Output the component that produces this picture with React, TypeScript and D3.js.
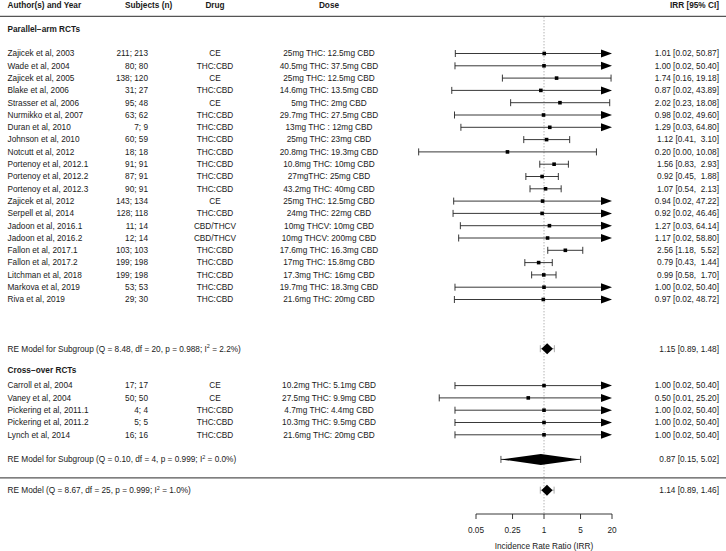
import React from 'react';
import * as d3 from 'd3';

// ---------- data ----------
const parAuthors = [
  'Zajicek et al, 2003', 'Wade et al, 2004', 'Zajicek et al, 2005', 'Blake et al, 2006',
  'Strasser et al, 2006', 'Nurmikko et al, 2007', 'Duran et al, 2010', 'Johnson et al, 2010',
  'Notcutt et al, 2012', 'Portenoy et al, 2012.1', 'Portenoy et al, 2012.2', 'Portenoy et al, 2012.3',
  'Zajicek et al, 2012', 'Serpell et al, 2014', 'Jadoon et al, 2016.1', 'Jadoon et al, 2016.2',
  'Fallon et al, 2017.1', 'Fallon et al, 2017.2', 'Litchman et al, 2018', 'Markova et al, 2019',
  'Riva et al, 2019',
];
const parSubjects = [
  '211; 213', '80; 80', '138; 120', '31; 27', '95; 48', '63; 62', '7; 9', '60; 59', '18; 18',
  '91; 91', '87; 91', '90; 91', '143; 134', '128; 118', '11; 14', '12; 14', '103; 103',
  '199; 198', '199; 198', '53; 53', '29; 30',
];
const parDrugs = [
  'CE', 'THC:CBD', 'CE', 'THC:CBD', 'CE', 'THC:CBD', 'THC:CBD', 'THC:CBD', 'THC:CBD',
  'THC:CBD', 'THC:CBD', 'THC:CBD', 'CE', 'THC:CBD', 'CBD/THCV', 'CBD/THCV', 'THC:CBD',
  'THC:CBD', 'THC:CBD', 'THC:CBD', 'THC:CBD',
];
const parDoses = [
  '25mg THC: 12.5mg CBD', '40.5mg THC: 37.5mg CBD', '25mg THC: 12.5mg CBD', '14.6mg THC: 13.5mg CBD',
  '5mg THC: 2mg CBD', '29.7mg THC: 27.5mg CBD', '13mg THC : 12mg CBD', '25mg THC: 23mg CBD',
  '20.8mg THC: 19.3mg CBD', '10.8mg THC: 10mg CBD', '27mgTHC: 25mg CBD', '43.2mg THC: 40mg CBD',
  '25mg THC: 12.5mg CBD', '24mg THC: 22mg CBD', '10mg THCV: 10mg CBD', '10mg THCV: 200mg CBD',
  '17.6mg THC: 16.3mg CBD', '17mg THC: 15.8mg CBD', '17.3mg THC: 16mg CBD', '19.7mg THC: 18.3mg CBD',
  '21.6mg THC: 20mg CBD',
];
const parEst = [1.01, 1.0, 1.74, 0.87, 2.02, 0.98, 1.29, 1.12, 0.2, 1.56, 0.92, 1.07, 0.94, 0.92, 1.27, 1.17, 2.56, 0.79, 0.99, 1.0, 0.97];
const parLo = [0.0201, 0.0198, 0.16, 0.0172, 0.23, 0.0194, 0.0257, 0.41, 0.004, 0.83, 0.45, 0.54, 0.0187, 0.0182, 0.0251, 0.0233, 1.18, 0.43, 0.58, 0.0198, 0.0193];
const parHi = [50.87, 50.4, 19.18, 43.89, 18.08, 49.6, 64.8, 3.1, 10.08, 2.93, 1.88, 2.13, 47.22, 46.46, 64.14, 58.8, 5.52, 1.44, 1.7, 50.4, 48.72];

const coAuthors = ['Carroll et al, 2004', 'Vaney et al, 2004', 'Pickering et al, 2011.1', 'Pickering et al, 2011.2', 'Lynch et al, 2014'];
const coSubjects = ['17; 17', '50; 50', '4; 4', '5; 5', '16; 16'];
const coDrugs = ['CE', 'CE', 'THC:CBD', 'THC:CBD', 'THC:CBD'];
const coDoses = ['10.2mg THC: 5.1mg CBD', '27.5mg THC: 9.9mg CBD', '4.7mg THC: 4.4mg CBD', '10.3mg THC: 9.5mg CBD', '21.6mg THC: 20mg CBD'];
const coEst = [1.0, 0.5, 1.0, 1.0, 1.0];
const coLo = [0.0198, 0.0099, 0.0198, 0.0198, 0.0198];
const coHi = [50.4, 25.2, 50.4, 50.4, 50.4];

const sumPrefix = ['RE Model for Subgroup (Q = 8.48, df = 20, p = 0.988; I', 'RE Model for Subgroup (Q = 0.10, df = 4, p = 0.999; I', 'RE Model (Q = 8.67, df = 25, p = 0.999; I'];
const sumI2 = ['2.2%)', '0.0%)', '1.0%)'];
const sumEst = [1.15, 0.87, 1.14];
const sumLo = [0.89, 0.15, 0.89];
const sumHi = [1.48, 5.02, 1.46];
const piLo = [0.85, 0.15, 0.85];
const piHi = [1.58, 5.02, 1.56];

const groupTitles = ['Parallel\u2212arm RCTs', 'Cross\u2212over RCTs'];
const headers = ['Author(s) and Year', 'Subjects (n)', 'Drug', 'Dose', 'IRR [95% CI]'];
const tickValues = [0.05, 0.25, 1, 5, 20];
const tickLabels = ['0.05', '0.25', '1', '5', '20'];
const axisTitle = 'Incidence Rate Ratio (IRR)';

// ---------- layout ----------
const W = 726;
const H = 551;
const FS = 8.25;
const FONT = "'Liberation Sans', Arial, Helvetica, sans-serif";
const TXT = '#1a1a1a';

const x = d3.scaleLog().domain([0.05, 20]).range([476, 612]);
const row = d3.scaleLinear().domain([0, 20]).range([53.5, 299.5]);

const fmtCI = (e: number, l: number, h: number, pad: boolean) =>
  `${e.toFixed(2)} [${l.toFixed(2)}, ${pad ? h.toFixed(2).padStart(5, ' ') : h.toFixed(2)}]`;

type Study = { a: string; s: string; d: string; dose: string; e: number; l: number; h: number; r: number };

const studies: Study[] = [
  ...parAuthors.map((a, i) => ({ a, s: parSubjects[i], d: parDrugs[i], dose: parDoses[i], e: parEst[i], l: parLo[i], h: parHi[i], r: i })),
  ...coAuthors.map((a, i) => ({ a, s: coSubjects[i], d: coDrugs[i], dose: coDoses[i], e: coEst[i], l: coLo[i], h: coHi[i], r: 27 + i })),
];
const sumRows = [24, 33, 35.5];
const titleRows = [-1.95, 25.78];
const headerRow = -3.95;
const lineYs = [16.3, 477.8];
const axisY = 514;

function StudyRow({ st }: { st: Study }) {
  const y = row(st.r);
  const xmax = x.range()[1];
  const clipped = st.h > 20;
  const xl = x(st.l);
  const xr = clipped ? xmax - 10 : x(st.h);
  const xe = x(st.e);
  const sq = 3.6;
  return (
    <g>
      <text x={7.5} y={y} dy="0.35em">{st.a}</text>
      <text x={148} y={y} dy="0.35em" textAnchor="end">{st.s}</text>
      <text x={215} y={y} dy="0.35em" textAnchor="middle">{st.d}</text>
      <text x={329} y={y} dy="0.35em" textAnchor="middle">{st.dose}</text>
      <text x={719} y={y} dy="0.35em" textAnchor="end" style={{ whiteSpace: 'pre' }}>{fmtCI(st.e, st.l, st.h, true)}</text>
      <line x1={xl} x2={xr} y1={y} y2={y} stroke="#222" strokeWidth={0.9} />
      <line x1={xl} x2={xl} y1={y - 3.5} y2={y + 3.5} stroke="#222" strokeWidth={0.9} />
      {clipped ? (
        <path d={`M${xmax},${y} L${xmax - 11},${y - 4} L${xmax - 11},${y + 4} Z`} fill="#000" />
      ) : (
        <line x1={xr} x2={xr} y1={y - 3.5} y2={y + 3.5} stroke="#222" strokeWidth={0.9} />
      )}
      <rect x={xe - sq / 2} y={y - sq / 2} width={sq} height={sq} fill="#000" />
    </g>
  );
}

export default function App() {
  return (
    <div style={{ position: 'fixed', left: 0, top: 0 }}>
      <svg width={W} height={H} fontFamily={FONT} fontSize={FS} fill={TXT} style={{ display: 'block', background: '#fff' }}>
        {/* headers */}
        <g fontWeight="bold">
          <text x={7.5} y={row(headerRow)} dy="0.35em">{headers[0]}</text>
          <text x={125} y={row(headerRow)} dy="0.35em">{headers[1]}</text>
          <text x={215} y={row(headerRow)} dy="0.35em" textAnchor="middle">{headers[2]}</text>
          <text x={329} y={row(headerRow)} dy="0.35em" textAnchor="middle">{headers[3]}</text>
          <text x={719} y={row(headerRow)} dy="0.35em" textAnchor="end">{headers[4]}</text>
          {groupTitles.map((t, i) => (
            <text key={t} x={7.5} y={row(titleRows[i])} dy="0.35em">{t}</text>
          ))}
        </g>
        {/* horizontal rules */}
        {lineYs.map((ly) => (
          <line key={ly} x1={0} x2={W} y1={ly} y2={ly} stroke="#555" strokeWidth={1.3} />
        ))}
        {/* reference line */}
        <line x1={x(1)} x2={x(1)} y1={lineYs[0] + 1} y2={axisY} stroke="#777" strokeWidth={0.8} strokeDasharray="1,2" />
        {/* studies */}
        {studies.map((st) => (
          <StudyRow key={st.a + st.r} st={st} />
        ))}
        {/* summaries */}
        {sumRows.map((r, i) => {
          const y = row(r);
          const hh = 5.5;
          return (
            <g key={r}>
              <text x={7.5} y={y} dy="0.35em">
                {sumPrefix[i]}
                <tspan fontSize={5.5} dy={-3.2}>2</tspan>
                <tspan dy={3.2}>{' = ' + sumI2[i]}</tspan>
              </text>
              <text x={719} y={y} dy="0.35em" textAnchor="end">{fmtCI(sumEst[i], sumLo[i], sumHi[i], false)}</text>
              <g stroke={i === 1 ? '#222' : '#999'} strokeWidth={0.8}>
                <line x1={x(piLo[i])} x2={x(piHi[i])} y1={y} y2={y} />
                <line x1={x(piLo[i])} x2={x(piLo[i])} y1={y - 3.5} y2={y + 3.5} />
                <line x1={x(piHi[i])} x2={x(piHi[i])} y1={y - 3.5} y2={y + 3.5} />
              </g>
              <path
                d={`M${x(sumLo[i])},${y} L${x(sumEst[i])},${y - hh} L${x(sumHi[i])},${y} L${x(sumEst[i])},${y + hh} Z`}
                fill="#000"
              />
            </g>
          );
        })}
        {/* axis */}
        <g>
          <line x1={x(tickValues[0])} x2={x(tickValues[tickValues.length - 1])} y1={axisY} y2={axisY} stroke="#222" strokeWidth={0.9} />
          {tickValues.map((t, i) => (
            <g key={t}>
              <line x1={x(t)} x2={x(t)} y1={axisY} y2={axisY + 5} stroke="#222" strokeWidth={0.9} />
              <text x={x(t)} y={530.5} dy="0.35em" textAnchor="middle">{tickLabels[i]}</text>
            </g>
          ))}
          <text x={x(1)} y={546.5} dy="0.35em" textAnchor="middle">{axisTitle}</text>
        </g>
      </svg>
    </div>
  );
}
